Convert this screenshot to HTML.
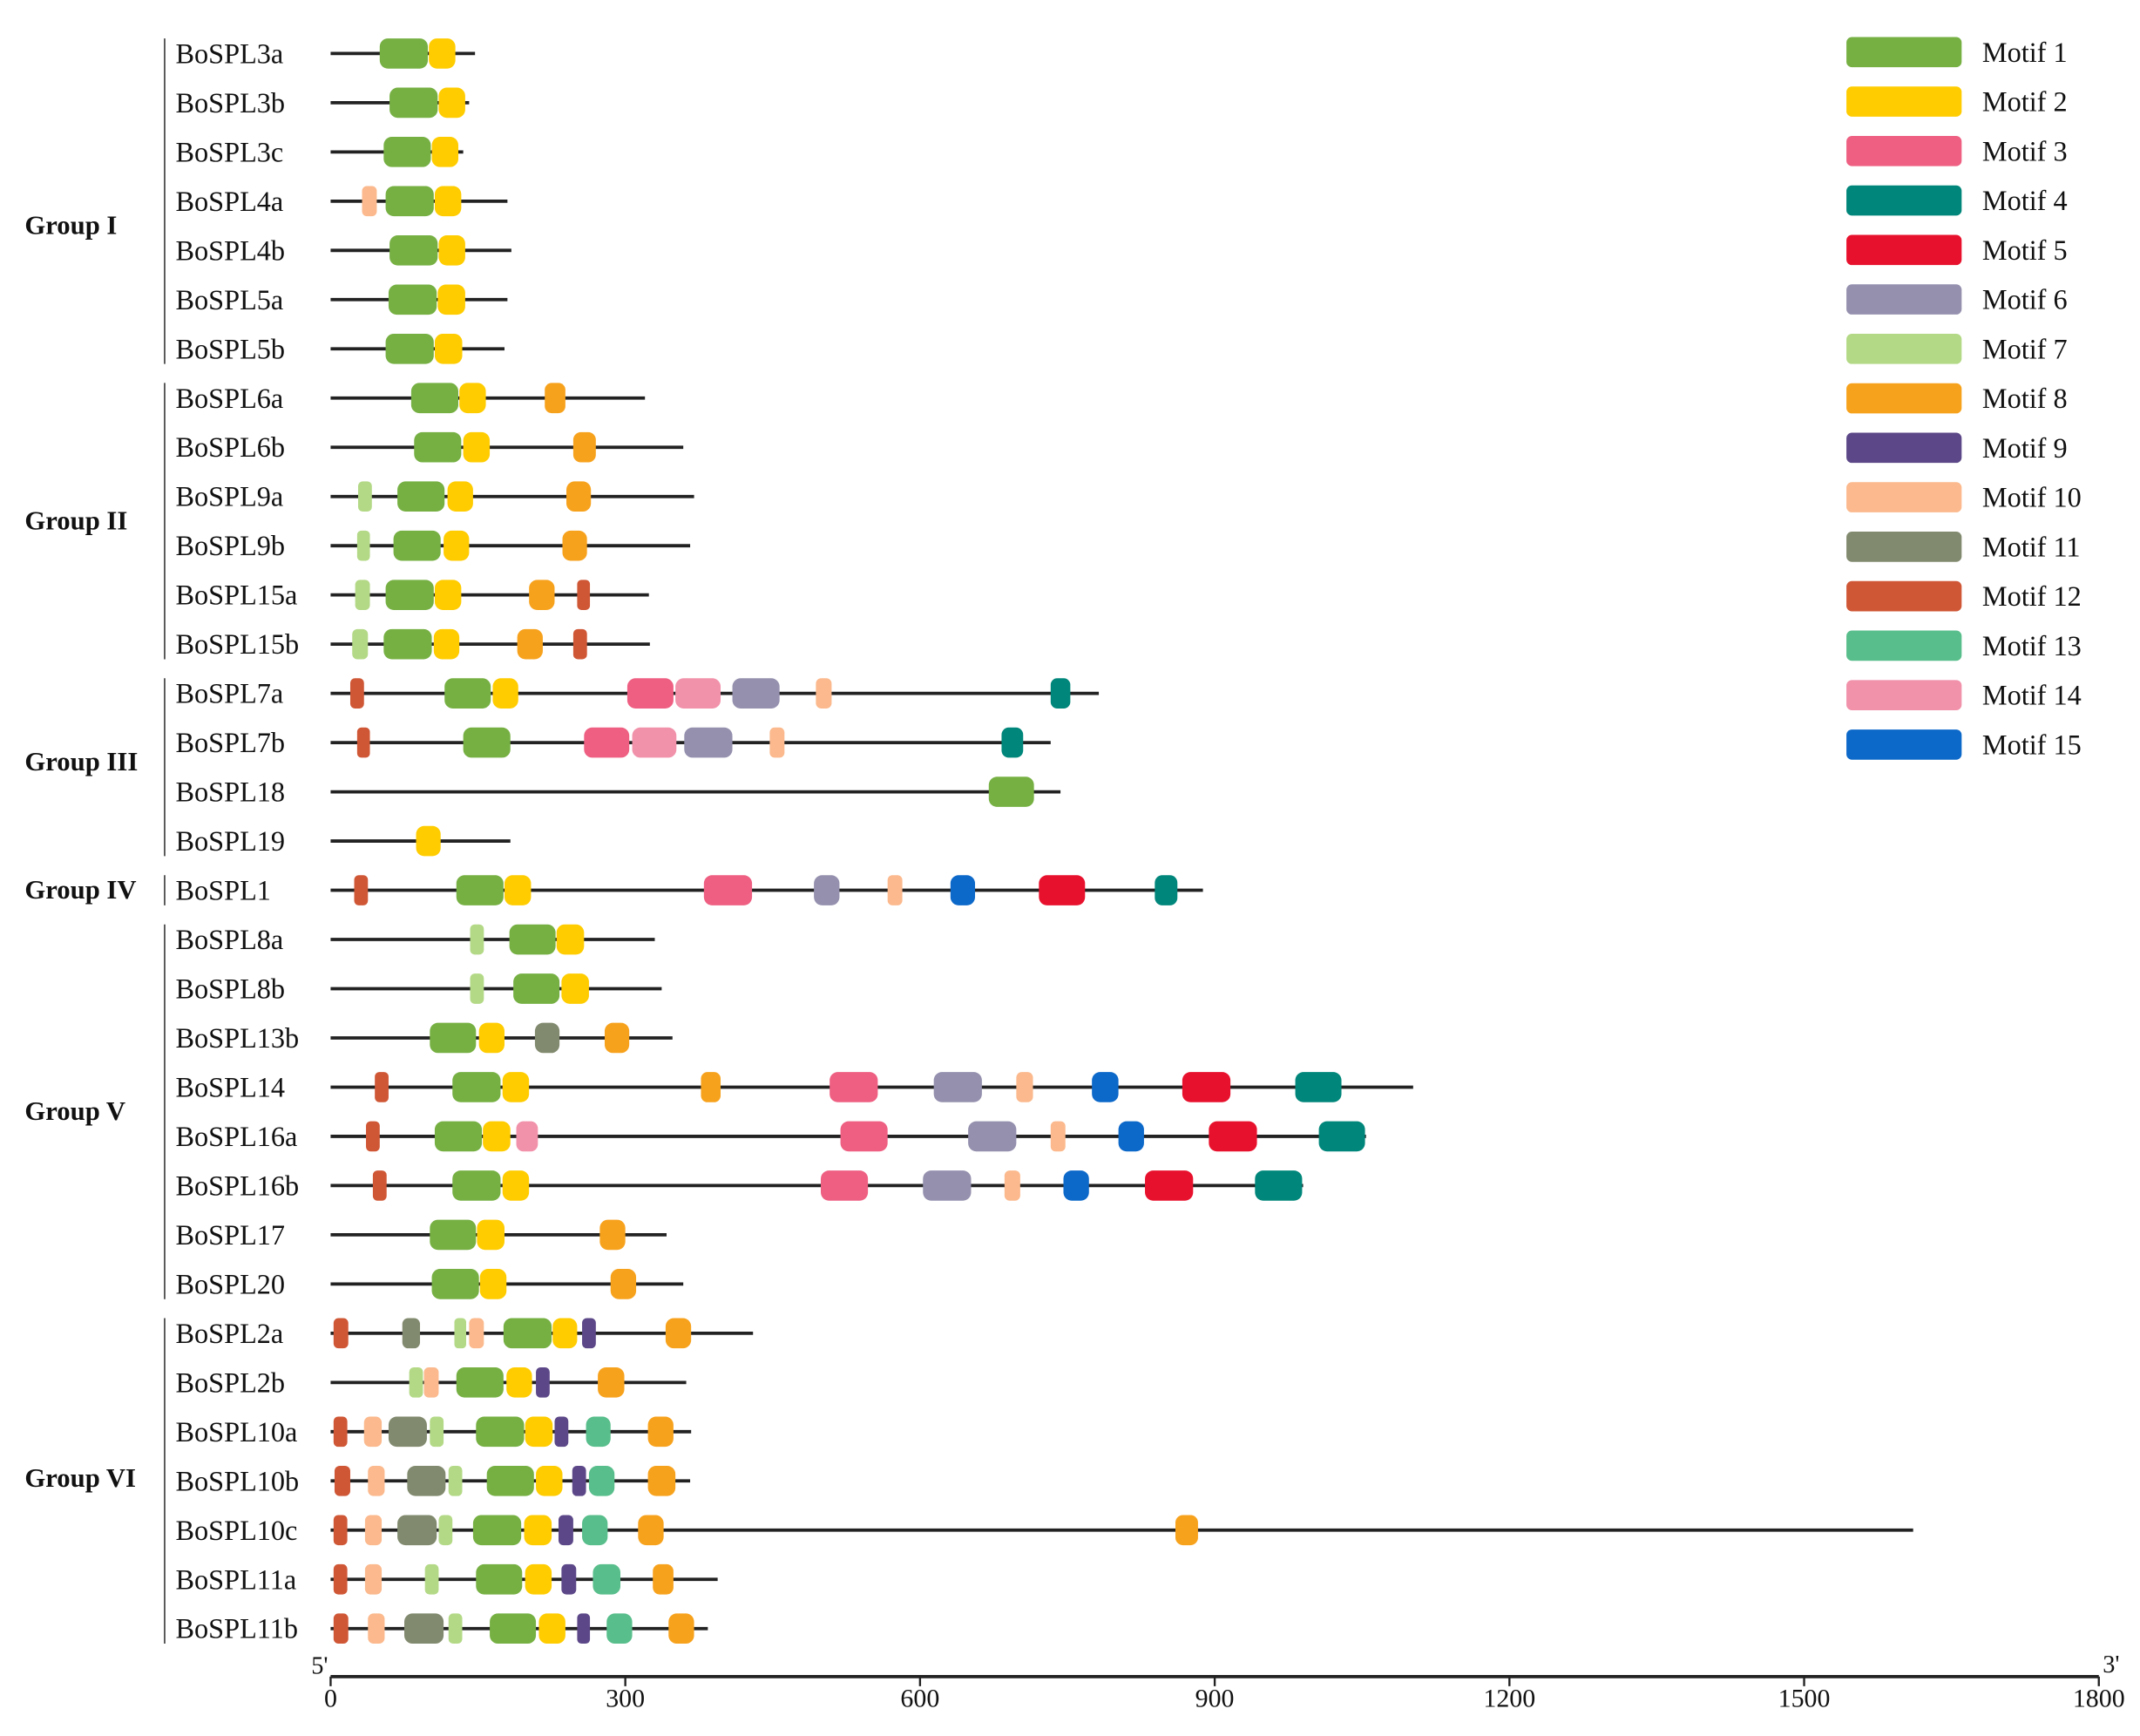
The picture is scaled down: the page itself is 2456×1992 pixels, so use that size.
<!DOCTYPE html>
<html><head><meta charset="utf-8"><style>
html,body{margin:0;padding:0;background:#fff;}
svg{display:block;}
text{font-family:"Liberation Serif",serif;fill:#111;}
</style></head><body>
<svg id="chart" width="2456" height="1992" viewBox="0 0 1560 1265.3" xmlns="http://www.w3.org/2000/svg"></svg>
<script>
const genes = ["BoSPL3a","BoSPL3b","BoSPL3c","BoSPL4a","BoSPL4b","BoSPL5a","BoSPL5b","BoSPL6a","BoSPL6b","BoSPL9a","BoSPL9b","BoSPL15a","BoSPL15b","BoSPL7a","BoSPL7b","BoSPL18","BoSPL19","BoSPL1","BoSPL8a","BoSPL8b","BoSPL13b","BoSPL14","BoSPL16a","BoSPL16b","BoSPL17","BoSPL20","BoSPL2a","BoSPL2b","BoSPL10a","BoSPL10b","BoSPL10c","BoSPL11a","BoSPL11b"];
const lengths = [147,141,135,180,184,180,177,320,359,370,366,324,325,782,733,743,183,888,330,337,348,1102,1054,990,342,359,430,362,367,366,1611,394,384];
const motifs = [
"1:50-99 2:100-127",
"1:60-109 2:110-137",
"1:54-102 2:103-130",
"10:32-47 1:56-105 2:106-133",
"1:60-109 2:110-137",
"1:59-108 2:109-137",
"1:56-105 2:106-134",
"1:82-130 2:131-158 8:218-239",
"1:85-133 2:135-162 8:247-270",
"7:28-42 1:68-116 2:119-145 8:240-265",
"7:27-40 1:64-112 2:115-141 8:236-261",
"7:25-40 1:56-105 2:106-133 8:202-228 12:251-264",
"7:22-38 1:54-103 2:105-131 8:190-216 12:247-261",
"12:20-34 1:116-163 2:165-191 3:302-349 14:351-397 6:409-457 10:494-510 4:733-753",
"12:27-40 1:135-183 3:258-304 14:307-352 6:360-409 10:447-462 4:683-705",
"1:670-716",
"2:87-112",
"12:24-38 1:128-176 2:177-204 3:380-429 6:492-518 10:567-582 15:631-656 5:721-768 4:839-862",
"7:142-156 1:182-229 2:230-258",
"7:142-156 1:186-233 2:235-263",
"1:101-148 2:151-177 11:208-233 8:279-304",
"12:45-59 1:124-173 2:175-202 8:377-397 3:508-557 6:614-663 10:698-715 15:775-802 5:867-916 4:982-1029",
"12:36-50 1:106-154 2:155-183 14:189-211 3:519-567 6:649-698 10:733-748 15:802-828 5:894-943 4:1006-1053",
"12:43-57 1:124-173 2:175-202 3:499-547 6:603-652 10:686-702 15:746-772 5:829-878 4:941-989",
"1:101-148 2:149-177 8:274-300",
"1:103-151 2:152-179 8:285-311",
"12:3-18 11:73-91 7:126-138 10:141-156 1:176-225 2:226-251 9:256-270 8:341-367",
"7:80-94 10:95-110 1:128-176 2:179-205 9:209-223 8:272-299",
"12:3-17 10:34-52 11:59-98 7:101-115 1:148-197 2:198-226 9:228-242 13:260-285 8:323-349",
"12:4-20 10:38-55 11:78-117 7:120-134 1:159-207 2:209-236 9:246-260 13:263-289 8:323-351",
"12:3-17 10:35-52 11:68-108 7:110-124 1:145-194 2:197-225 9:232-247 13:256-282 8:313-339 8:860-883",
"12:3-17 10:35-52 7:96-110 1:148-195 2:198-225 9:235-250 13:267-295 8:328-349",
"12:3-18 10:38-55 11:75-115 7:120-134 1:162-209 2:212-239 9:251-264 13:281-307 8:344-370"
];
const groupNames = ["Group I","Group II","Group III","Group IV","Group V","Group VI"];
const groupFirst = [0,7,13,17,18,26];
const groupLast = [6,12,16,17,25,32];
const groupLabelRow = [3.5,9.5,14.4,17,21.5,28.95];
const legendLabels = ["Motif 1","Motif 2","Motif 3","Motif 4","Motif 5","Motif 6","Motif 7","Motif 8","Motif 9","Motif 10","Motif 11","Motif 12","Motif 13","Motif 14","Motif 15"];
const tickValues = [0,300,600,900,1200,1500,1800];
const colors = ["#76b043","#ffcc00","#ee5f82","#00867a","#e8112d","#9490ae","#b3d986","#f7a21d","#5c4888","#fbb98d","#818a6e","#cf5736","#58be8b","#f191aa","#0c68c9"];

const NS="http://www.w3.org/2000/svg";
const svg=document.getElementById('chart');
function el(tag,attrs,parent){const e=document.createElementNS(NS,tag);for(const k in attrs)e.setAttribute(k,attrs[k]);(parent||svg).appendChild(e);return e;}
const x0=241, x1=1530;
function xs(v){return x0+(v/1800)*(x1-x0);}
function ys(i){return 39+i*35.875;}

genes.forEach((g,i)=>{
  const y=ys(i);
  const grp=el('g',{});
  
  
  const t=el('text',{x:128,y:y+7,'font-size':20.5},grp);
  t.textContent=g;
  
  
  const ln=el('line',{x1:xs(0),x2:xs(lengths[i]),y1:y,y2:y,stroke:'#222','stroke-width':2.4},grp);
  
  
  motifs[i].split(' ').forEach(s=>{
    const [m,r]=s.split(':');const [a,b]=r.split('-').map(Number);
    const w=xs(b)-xs(a);
    const rc=el('rect',{x:xs(a),y:y-11,width:w,height:22,rx:Math.min(6,w/3),fill:colors[+m-1]},grp);
    
    
  });
});

groupNames.forEach((n,k)=>{
  const ya=ys(groupFirst[k])-11, yb=ys(groupLast[k])+11;
  const l=el('line',{x1:120,x2:120,y1:ya,y2:yb,stroke:'#555','stroke-width':1.2});
  
  
  const t=el('text',{x:18,y:ys(groupLabelRow[k])+6,'font-size':19.5,'font-weight':'bold'});
  t.textContent=n;
  
  
});

const ay=1222;
const ax=el('line',{x1:x0,x2:x1,y1:ay,y2:ay,stroke:'#222','stroke-width':2.4});


tickValues.forEach(v=>{
  const tk=el('line',{x1:xs(v),x2:xs(v),y1:ay,y2:ay+7,stroke:'#222','stroke-width':1.5});
  
  
  const t=el('text',{x:xs(v),y:ay+22,'font-size':19,'text-anchor':'middle'});
  t.textContent=v;
  
  
});
const t5=el('text',{x:233,y:1220,'font-size':18,'text-anchor':'middle'});t5.textContent="5'";


const t3=el('text',{x:1539,y:1219,'font-size':18,'text-anchor':'middle'});t3.textContent="3'";



legendLabels.forEach((n,k)=>{
  const y=38+k*36.05;
  const g=el('g',{});
  
  
  const r=el('rect',{x:1346,y:y-11,width:84,height:22,rx:4,fill:colors[k]},g);
  
  
  const t=el('text',{x:1445,y:y+7,'font-size':20.5},g);
  t.textContent=n;
  
  
});
</script>
</body></html>
